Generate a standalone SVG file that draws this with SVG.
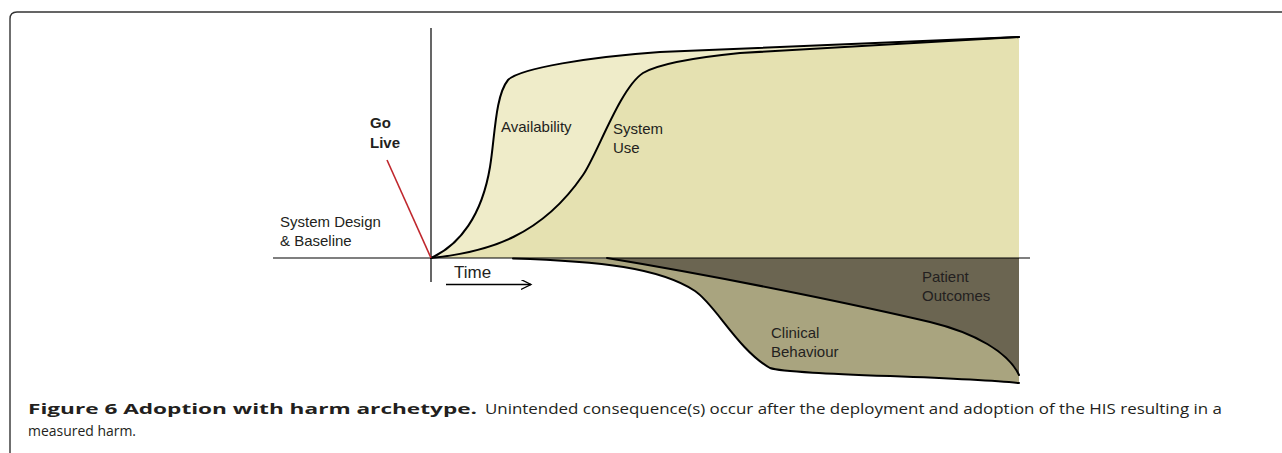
<svg xmlns="http://www.w3.org/2000/svg" width="1282" height="453" viewBox="0 0 1282 453">
<defs>
<style>
.lbl{font-family:"Liberation Sans",Arial,sans-serif;font-size:15px;fill:#231f20;}
.bold{font-weight:bold;}
.curve{fill:none;stroke:#000;stroke-width:2;stroke-linejoin:round;stroke-linecap:round;}
.axis{fill:none;stroke:#000;stroke-width:1.2;}
.cap{font-family:"Open Sans","Noto Sans",sans-serif;font-size:14.5px;fill:#231f20;}
.capb{font-family:"Open Sans","Noto Sans",sans-serif;font-size:15px;font-weight:bold;fill:#231f20;}
</style>
<marker id="chev" markerWidth="12" markerHeight="12" refX="10" refY="5" orient="auto" markerUnits="userSpaceOnUse">
<path d="M0,0 L10,5 L0,10" fill="none" stroke="#000" stroke-width="1.3"/>
</marker>
</defs>
<rect width="1282" height="453" fill="#fff"/>
<g id="frame">
<path d="M10,453 V19 Q10,12 17,12 H1282" fill="none" stroke="#333" stroke-width="1.4"/>
</g>
<g id="availability">
<path d="M431,258 C460,245 482,215 490,167 C495,137 495,96 508,80 C520,68 590,57 660,52 L1019,37 L1019,258 Z" fill="#efecc9"/>
</g>
<g id="system-use">
<path d="M431,258 C490,252 542,235 583,175 C597,155 620,88 643,73 C660,63 700,57 740,53 L1019,37 L1019,258 Z" fill="#e5e1b1"/>
</g>
<g id="clinical-behaviour">
<path d="M513,258.5 C600,261 660,268 695,291 C715,304 738,350 770,368 C790,375 950,376 1019,383 L1019,258 Z" fill="#a9a47f"/>
</g>
<g id="patient-outcomes">
<path d="M607,258 C740,280 870,308 930,322 C975,333 1008,352 1019,375 L1019,258 Z" fill="#6b6551"/>
</g>
<g id="connectors">
<path class="curve" d="M431,258 C460,245 482,215 490,167 C495,137 495,96 508,80 C520,68 590,57 660,52 L1019,37"/>
<path class="curve" d="M431,258 C490,252 542,235 583,175 C597,155 620,88 643,73 C660,63 700,57 740,53 L1019,37"/>
<path class="curve" d="M513,258.5 C600,261 660,268 695,291 C715,304 738,350 770,368 C790,375 950,376 1019,383"/>
<path class="curve" d="M607,258 C740,280 870,308 930,322 C975,333 1008,352 1019,375"/>
<line class="axis" x1="273" y1="258" x2="1030" y2="258"/>
<line class="axis" x1="431" y1="28" x2="431" y2="282"/>
<line x1="387" y1="160" x2="431" y2="258" stroke="#c0272d" stroke-width="1.6"/>
<line x1="446" y1="284.5" x2="531" y2="284.5" stroke="#000" stroke-width="1.3" marker-end="url(#chev)"/>
</g>
<g id="labels">
<text class="lbl bold" x="370" y="128">Go</text>
<text class="lbl bold" x="370" y="148">Live</text>
<text class="lbl" x="280" y="227">System Design</text>
<text class="lbl" x="280" y="246">&amp; Baseline</text>
<text class="lbl" x="501" y="132">Availability</text>
<text class="lbl" x="613" y="134">System</text>
<text class="lbl" x="613" y="153">Use</text>
<text class="lbl" x="454" y="278" style="font-size:17px">Time</text>
<text class="lbl" x="922" y="282">Patient</text>
<text class="lbl" x="922" y="301">Outcomes</text>
<text class="lbl" x="771" y="338">Clinical</text>
<text class="lbl" x="771" y="357">Behaviour</text>
</g>
<g id="caption">
<text class="capb" x="28" y="414" textLength="449" lengthAdjust="spacingAndGlyphs">Figure 6 Adoption with harm archetype.</text>
<text class="cap" x="485" y="414" textLength="737" lengthAdjust="spacingAndGlyphs">Unintended consequence(s) occur after the deployment and adoption of the HIS resulting in a</text>
<text class="cap" x="28" y="436" textLength="108" lengthAdjust="spacingAndGlyphs">measured harm.</text>
</g>
</svg>
